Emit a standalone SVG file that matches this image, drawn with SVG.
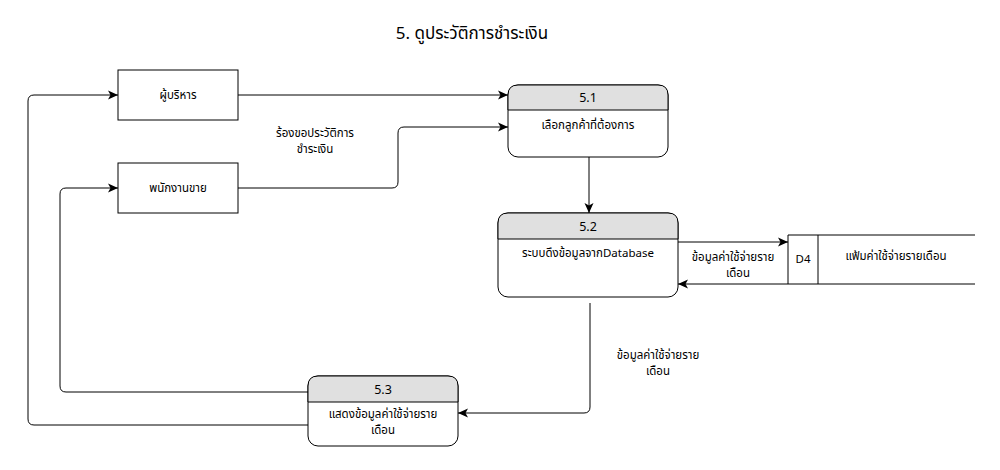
<svg xmlns="http://www.w3.org/2000/svg" width="1000" height="470" viewBox="0 0 1000 470">
<defs>
<marker id="arr" viewBox="0 0 10 10" refX="10" refY="5" markerWidth="10" markerHeight="10" markerUnits="userSpaceOnUse" orient="auto">
<path d="M0,0.5 L10,5 L0,9.5 L2.5,5 Z" fill="#000"/>
</marker>
<style>
text{font-family:"Noto Sans Thai","Tahoma","DejaVu Sans","Noto Sans",sans-serif;font-size:11.5px;fill:#000;text-anchor:middle}
.t{font-size:17px}
.h{font-size:12.5px}
.box{fill:#fff;stroke:#000;stroke-width:1}
.hd{fill:#e0e0e0;stroke:#000;stroke-width:1}
.ln{fill:none;stroke:#000;stroke-width:1;marker-end:url(#arr)}
.pl{fill:none;stroke:#000;stroke-width:1}
</style>
</defs>
<rect width="1000" height="470" fill="#fff"/>
<text class="t" x="472" y="39">5. ดูประวัติการชำระเงิน</text>

<g id="connectors">
<path class="ln" d="M238,95 H508"/>
<path class="ln" d="M238,188 H392 Q398,188 398,182 V133 Q398,127 404,127 H508"/>
<path class="ln" d="M589,157 V213"/>
<path class="ln" d="M678,242 H788"/>
<path class="ln" d="M788,284 H678"/>
<path class="ln" d="M590,303 V407 Q590,413 584,413 H458"/>
<path class="ln" d="M308,392 H66 Q60,392 60,386 V194 Q60,188 66,188 H118"/>
<path class="ln" d="M308,425 H34 Q28,425 28,419 V101 Q28,95 34,95 H118"/>
<text x="315" y="137">ร้องขอประวัติการ</text>
<text x="315" y="153">ชำระเงิน</text>
<text x="733" y="261">ข้อมูลค่าใช้จ่ายราย</text>
<text x="738" y="277">เดือน</text>
<text x="658" y="359">ข้อมูลค่าใช้จ่ายราย</text>
<text x="658" y="375">เดือน</text>
</g>

<g id="ext1">
<rect class="box" x="118" y="70" width="120" height="50"/>
<text x="178" y="99">ผู้บริหาร</text>
</g>
<g id="ext2">
<rect class="box" x="118" y="163" width="120" height="50"/>
<text x="178" y="192">พนักงานขาย</text>
</g>

<g id="p51">
<rect class="box" x="508" y="85" width="160" height="72" rx="10"/>
<path class="hd" d="M508,110 V95 Q508,85 518,85 H658 Q668,85 668,95 V110 Z"/>
<text class="h" x="588" y="102">5.1</text>
<text x="588" y="129">เลือกลูกค้าที่ต้องการ</text>
</g>

<g id="p52">
<rect class="box" x="498" y="213" width="180" height="84" rx="10"/>
<path class="hd" d="M498,239 V223 Q498,213 508,213 H668 Q678,213 678,223 V239 Z"/>
<text class="h" x="588" y="231">5.2</text>
<text x="588" y="257">ระบบดึงข้อมูลจากDatabase</text>
</g>

<g id="p53">
<rect class="box" x="308" y="376" width="150" height="70" rx="10"/>
<path class="hd" d="M308,402 V386 Q308,376 318,376 H448 Q458,376 458,386 V402 Z"/>
<text class="h" x="383" y="394">5.3</text>
<text x="383" y="418">แสดงข้อมูลค่าใช้จ่ายราย</text>
<text x="383" y="434">เดือน</text>
</g>

<g id="d4">
<path class="pl" d="M975,235 H788 V284 H975"/>
<path class="pl" d="M818,235 V284"/>
<text x="803" y="263">D4</text>
<text x="896" y="260">แฟ้มค่าใช้จ่ายรายเดือน</text>
</g>
</svg>
